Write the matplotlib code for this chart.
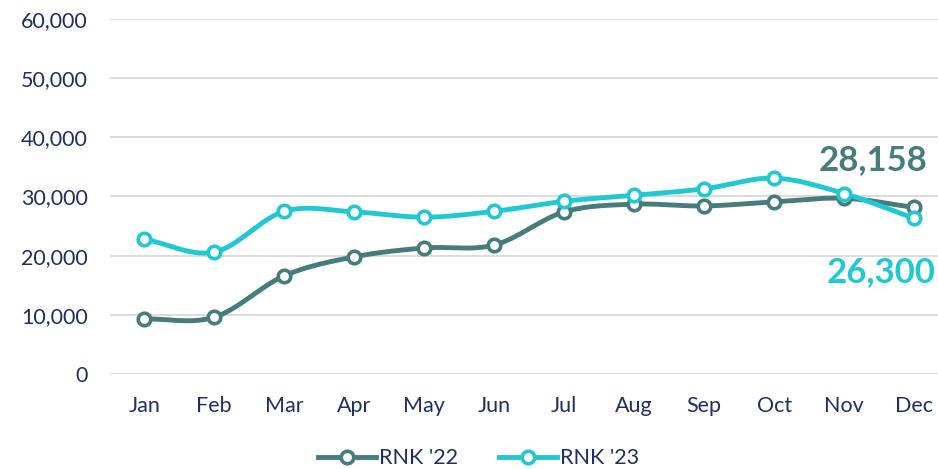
import numpy as np
import matplotlib.pyplot as plt

months = ["Jan", "Feb", "Mar", "Apr", "May", "Jun", "Jul", "Aug", "Sep", "Oct", "Nov", "Dec"]
rnk22 = [9300, 9600, 16600, 19800, 21300, 21800, 27400, 28700, 28400, 29100, 29700, 28158]
rnk23 = [22800, 20600, 27500, 27400, 26500, 27500, 29200, 30200, 31300, 33100, 30500, 26300]

C22 = "#467C7C"
C23 = "#1FC8D2"
TXT = "#1F3060"


def smooth(x, y, n=30):
    # Catmull-Rom curve through the points (like Excel's smoothed line)
    x = np.asarray(x, float)
    y = np.asarray(y, float)
    px = np.concatenate([[2 * x[0] - x[1]], x, [2 * x[-1] - x[-2]]])
    py = np.concatenate([[2 * y[0] - y[1]], y, [2 * y[-1] - y[-2]]])
    xs, ys = [], []
    t = np.linspace(0, 1, n)
    for i in range(1, len(px) - 2):
        for p, out in ((px, xs), (py, ys)):
            p0, p1, p2, p3 = p[i - 1], p[i], p[i + 1], p[i + 2]
            out.extend(0.5 * (2 * p1 + (-p0 + p2) * t
                              + (2 * p0 - 5 * p1 + 4 * p2 - p3) * t ** 2
                              + (-p0 + 3 * p1 - 3 * p2 + p3) * t ** 3))
    return np.array(xs), np.array(ys)


plt.rcParams['font.family'] = ['Lato', 'DejaVu Sans']

fig = plt.figure(figsize=(9.38, 4.69), dpi=100)
ax = fig.add_axes([110 / 938, 1 - 374 / 469, 828 / 938, 355 / 469])

x = np.arange(len(months))
for vals, col, lab in ((rnk22, C22, "RNK '22"), (rnk23, C23, "RNK '23")):
    sx, sy = smooth(x, vals)
    ax.plot(sx, sy, color=col, lw=3.5, solid_capstyle='round', zorder=3)
    ax.plot(x, vals, linestyle='none', marker='o', ms=9, mfc='white', mec=col, mew=2.6, zorder=4)
    ax.plot([], [], color=col, lw=3.5, marker='o', ms=9, mfc='white', mec=col, mew=2.6, label=lab)

ax.set_ylim(0, 60000)
ax.set_xlim(-0.49, 11.34)
ax.set_yticks(range(0, 60001, 10000))
ax.set_yticklabels([f"{v:,}" for v in range(0, 60001, 10000)])
ax.set_xticks(x)
ax.set_xticklabels(months)
ax.grid(axis='y', color='#D9D9D9', lw=1.3)
ax.set_axisbelow(True)
for s in ax.spines.values():
    s.set_visible(False)
ax.tick_params(length=0, labelsize=15.5, labelcolor=TXT)
ax.tick_params(axis='y', pad=16)
ax.tick_params(axis='x', pad=16)

ax.text(11.19, 36200, f"{rnk22[-1]:,}", color=C22, fontsize=25, fontweight='bold',
        ha='right', va='center')
ax.text(11.3, 17300, f"{rnk23[-1]:,}", color=C23, fontsize=25, fontweight='bold',
        ha='right', va='center')

fig.legend(loc='lower center', bbox_to_anchor=(0.51, -0.04), ncol=2, frameon=False,
           fontsize=15.5, labelcolor=TXT, handlelength=2.7, handletextpad=0.15, columnspacing=1.9)

fig.savefig("out.png", dpi=100)
